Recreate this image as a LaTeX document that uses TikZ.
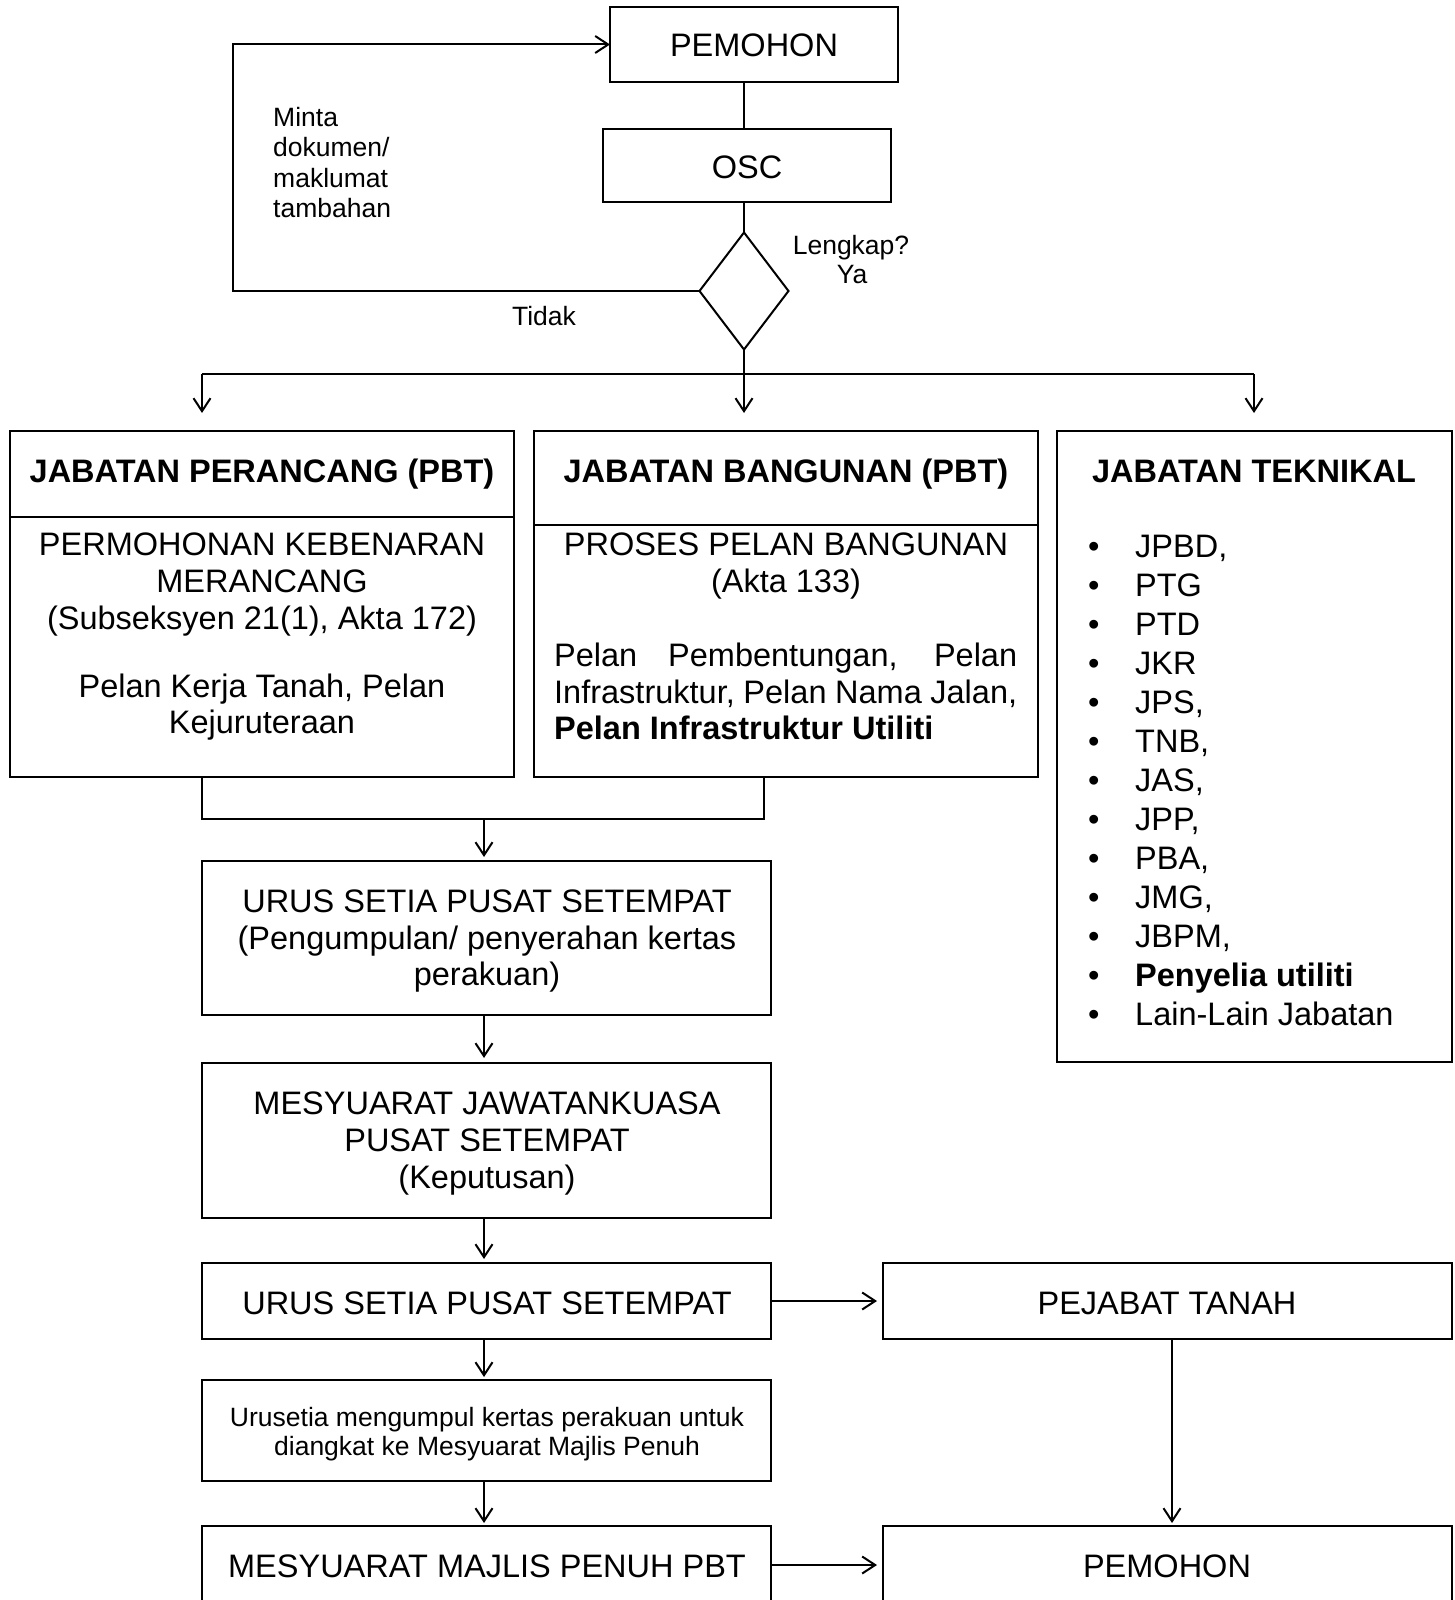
\documentclass[tikz,border=0pt]{standalone}
\usepackage{fontspec}
\setmainfont{Liberation Sans}
\usetikzlibrary{arrows.meta,shapes.geometric}
\begin{document}
\begin{tikzpicture}[x=1pt,y=-1pt,
  ln/.style={line width=2pt},
  bx/.style={draw,ln,rectangle,inner sep=0pt,outer sep=0pt},
  t/.style={anchor=base,inner sep=0pt,font=\fontsize{32.5}{38}\selectfont},
  tb/.style={anchor=base,inner sep=0pt,font=\fontsize{32.5}{38}\selectfont\bfseries},
  ts/.style={anchor=base,inner sep=0pt,font=\fontsize{26.5}{30}\selectfont},
  arr/.style={ln,-{Straight Barb[length=13pt,width=17pt]}}]
\clip (0,0) rectangle (1455,1600);
\fill[white] (0,0) rectangle (1455,1600);

% boxes
\node[bx,minimum width=288pt,minimum height=75pt] (pem1) at (754,44.5) {};
\node[bx,minimum width=288pt,minimum height=73pt] (osc) at (747,165.5) {};
\node[draw,ln,diamond,minimum width=89pt,minimum height=117pt,inner sep=0pt,outer sep=0pt] (dia) at (744,291) {};
\node[bx,minimum width=504pt,minimum height=346pt] (b1) at (262,604) {};
\node[bx,minimum width=504pt,minimum height=346pt] (b2) at (786,604) {};
\node[bx,minimum width=395pt,minimum height=631pt] (b3) at (1254.5,746.5) {};
\node[bx,minimum width=569pt,minimum height=154pt] (urs1) at (486.5,938) {};
\node[bx,minimum width=569pt,minimum height=155pt] (mjk) at (486.5,1140.5) {};
\node[bx,minimum width=569pt,minimum height=76pt] (urs2) at (486.5,1301) {};
\node[bx,minimum width=569pt,minimum height=76pt] (pt) at (1167.5,1301) {};
\node[bx,minimum width=569pt,minimum height=101pt] (uru) at (486.5,1430.5) {};
\node[bx,minimum width=569pt,minimum height=78pt] (mm) at (486.5,1565) {};
\node[bx,minimum width=569pt,minimum height=78pt] (pem2) at (1167.5,1565) {};

% dividers
\draw[ln] ([yshift=-86pt]b1.north west) -- ([yshift=-86pt]b1.north east);
\draw[ln] ([yshift=-94pt]b2.north west) -- ([yshift=-94pt]b2.north east);

% texts
\node[t] (tpem1) at (754,57) {PEMOHON};
\node[t] (tosc) at (747,178) {OSC};
\node[ts,anchor=base west] (m1) at (273,127) {Minta};
\node[ts,anchor=base west] (m2) at (273,157) {dokumen/};
\node[ts,anchor=base west] (m3) at (273,187) {maklumat};
\node[ts,anchor=base west] (m4) at (273,217) {tambahan};
\node[ts] (lk) at (851,254) {Lengkap?};
\node[ts] (ya) at (852,283) {Ya};
\node[ts] (td) at (544,325) {Tidak};

\node[tb] (h1) at (262,482) {JABATAN PERANCANG (PBT)};
\node[tb] (h2) at (786,482) {JABATAN BANGUNAN (PBT)};
\node[tb] (h3) at (1254,482) {JABATAN TEKNIKAL};

\node[t] (b1a) at (262,555) {PERMOHONAN KEBENARAN};
\node[t] (b1b) at (262,592) {MERANCANG};
\node[t] (b1c) at (262,629) {(Subseksyen 21(1), Akta 172)};
\node[t] (b1d) at (262,697) {Pelan Kerja Tanah, Pelan};
\node[t] (b1e) at (262,733) {Kejuruteraan};

\node[t] (b2a) at (786,555) {PROSES PELAN BANGUNAN};
\node[t] (b2b) at (786,592) {(Akta 133)};
\node[t,anchor=base west] (b2c) at (554,666) {\makebox[463pt][s]{Pelan Pembentungan, Pelan}};
\node[t,anchor=base west] (b2d) at (554,703) {\makebox[463pt][s]{Infrastruktur, Pelan Nama Jalan,}};
\node[tb,anchor=base west] (b2e) at (554,739) {Pelan Infrastruktur Utiliti};

\foreach \k/\s in {0/JPBD{,},1/PTG,2/PTD,3/JKR,4/JPS{,},5/TNB{,},6/JAS{,},7/JPP{,},8/PBA{,},9/JMG{,},10/JBPM{,},11/\textbf{Penyelia utiliti},12/Lain-Lain Jabatan}{
  \node[t,anchor=base west] (it\k) at (1088,557+39*\k) {\makebox[47pt][l]{•}\s};
}

\node[t] (u1a) at (487,912) {URUS SETIA PUSAT SETEMPAT};
\node[t] (u1b) at (487,949) {(Pengumpulan/ penyerahan kertas};
\node[t] (u1c) at (487,985) {perakuan)};
\node[t] (mja) at (487,1114) {MESYUARAT JAWATANKUASA};
\node[t] (mjb) at (487,1151) {PUSAT SETEMPAT};
\node[t] (mjc) at (487,1188) {(Keputusan)};
\node[t] (u2) at (487,1314) {URUS SETIA PUSAT SETEMPAT};
\node[t] (tpt) at (1167,1314) {PEJABAT TANAH};
\node[ts] (ura) at (487,1426) {Urusetia mengumpul kertas perakuan untuk};
\node[ts] (urb) at (487,1455) {diangkat ke Mesyuarat Majlis Penuh};
\node[t] (tmm) at (487,1577) {MESYUARAT MAJLIS PENUH PBT};
\node[t] (tpem2) at (1167,1577) {PEMOHON};

% connectors
\draw[ln] (pem1.south -| dia.north) -- (osc.north -| dia.north);
\draw[ln] (osc.south -| dia.north) -- (dia.north);
\coordinate (lp) at (233,291);
\draw[arr] (dia.west) -- (lp) |- (pem1.west);

\coordinate (split) at (744,374);
\coordinate (s1) at (202,374);
\coordinate (s3) at (1254,374);
\draw[ln] (dia.south) -- (split);
\draw[ln] (s1) -- (s3);
\draw[arr,shorten >=18pt] (s1) -- (s1 |- b1.north);
\draw[arr,shorten >=18pt] (split) -- (split |- b2.north);
\draw[arr,shorten >=18pt] (s3) -- (s3 |- b3.north);

\coordinate (mg1) at (202,819);
\coordinate (mg2) at (764,819);
\coordinate (mc) at (484,819);
\draw[ln] (b1.south -| mg1) -- (mg1) -- (mg2) -- (b2.south -| mg2);
\draw[arr,shorten >=4pt] (mc) -- (mc |- urs1.north);

\coordinate (cx) at (484,0);
\draw[arr,shorten >=5pt] (urs1.south -| cx) -- (mjk.north -| cx);
\draw[arr,shorten >=4pt] (mjk.south -| cx) -- (urs2.north -| cx);
\draw[arr,shorten >=3pt] (urs2.south -| cx) -- (uru.north -| cx);
\draw[arr,shorten >=3pt] (uru.south -| cx) -- (mm.north -| cx);

\draw[arr,shorten >=6pt] (urs2.east) -- (pt.west);
\draw[arr,shorten >=6pt] (mm.east) -- (pem2.west);
\coordinate (px) at (1172,0);
\draw[arr,shorten >=3pt] (pt.south -| px) -- (pem2.north -| px);
\end{tikzpicture}
\end{document}
